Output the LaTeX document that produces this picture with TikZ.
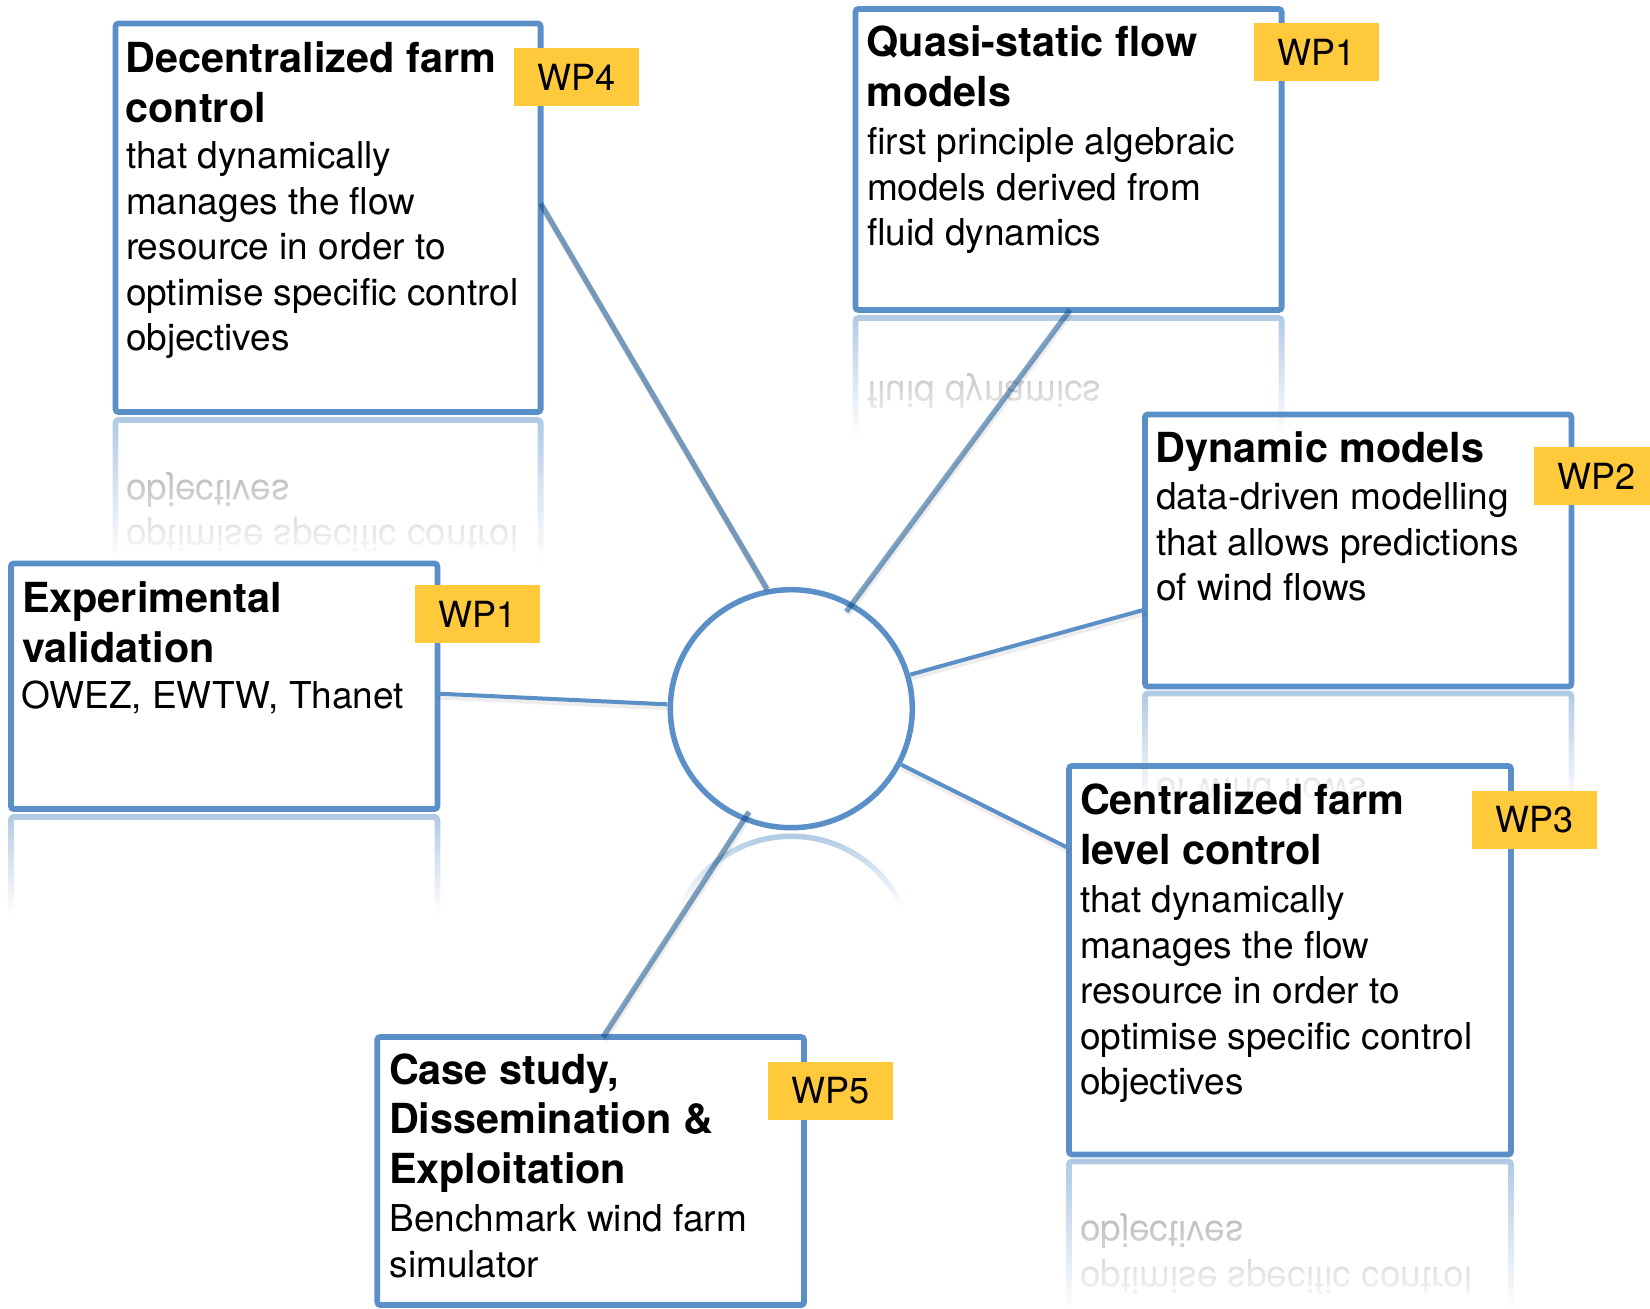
\documentclass[tikz,border=0pt]{standalone}
\usepackage{fontspec}
\setmainfont{TeX Gyre Heros}
\usetikzlibrary{shapes.geometric,calc,fadings}

\definecolor{boxblue}{RGB}{91,143,199}
\definecolor{spokeblue}{RGB}{0,71,135}
\definecolor{tagyellow}{RGB}{255,201,60}

% title and body text blocks (baseline = first line)
\newcommand\ttl[1]{\parbox[t]{230pt}{\raggedright\fontsize{20.7pt}{24.75pt}\selectfont\bfseries #1}}
\newcommand\bdy[1]{\parbox[t]{230pt}{\raggedright\fontsize{18.5pt}{22.75pt}\selectfont #1}}

\tikzset{
  wpbox/.style={rectangle, draw=boxblue, line width=2.9pt, rounded corners=1.5pt,
    inner sep=0pt, outer sep=0pt},
  wptxt/.style={anchor=base west, inner sep=0pt, outer sep=0pt, text=black},
  hubring/.style={ellipse, draw=boxblue, line width=2.75pt, fill=white,
    inner sep=0pt, outer sep=0pt, minimum width=121pt, minimum height=119pt},
  tag/.style={rectangle, fill=tagyellow, inner sep=0pt, outer sep=0pt,
    minimum width=62.5pt, minimum height=29pt, font=\fontsize{18pt}{20pt}\selectfont},
  spoke/.style={draw=spokeblue, draw opacity=0.5, line width=2.7pt},
  link/.style={draw=boxblue, line width=2pt},
  lineshadow/.style={preaction={draw=black, draw opacity=0.07, line width=3pt,
    transform canvas={shift={(0.5pt,-1.5pt)}}}},
  mirror/.style={shift={(0,#1)}, yscale=-1, shift={(0,-#1)},
    every node/.append style={transform shape}},
  faded/.style={wpbox/.append style={draw=boxblue!48},
    wptxt/.append style={text=black!42},
    hubring/.append style={draw=boxblue!48}},
  fadecover/.style={fill=white, path fading=north},
}

\begin{document}
\begin{tikzpicture}[x=0.5pt, y=-0.5pt]
  \useasboundingbox (0,0) rectangle (1650,1309);

  % ---- mirrored reflections below the boxes and the hub ----
  \begin{scope}
    \clip (108,416) rectangle (548,561);
    \begin{scope}[mirror=416, faded]
      \node[wpbox, minimum width=212.55pt, minimum height=194.25pt] (decr) at (328.05,217.75) {};
      \node[wptxt] (decrb) at (126,306) {\bdy{optimise specific control\\objectives}};
    \end{scope}
    \path[fadecover] (108,416) rectangle (548,561);
  \end{scope}
  \begin{scope}
    \clip (848,314) rectangle (1289,434);
    \begin{scope}[mirror=314, faded]
      \node[wpbox, minimum width=213.05pt, minimum height=150.5pt] (qsr) at (1068.55,159.5) {};
      \node[wptxt] (qsrb) at (867,246) {\bdy{fluid dynamics}};
    \end{scope}
    \path[fadecover] (848,314) rectangle (1289,434);
  \end{scope}
  \begin{scope}
    \clip (3,813) rectangle (445,913);
    \begin{scope}[mirror=813, faded]
      \node[wpbox, minimum width=213.25pt, minimum height=122.75pt] (expr) at (224.15,686.25) {};
    \end{scope}
    \path[fadecover] (3,813) rectangle (445,913);
  \end{scope}
  \begin{scope}
    \clip (1137,690) rectangle (1580,805);
    \begin{scope}[mirror=690, faded]
      \node[wpbox, minimum width=213.25pt, minimum height=136pt] (dynr) at (1358.25,550.5) {};
      \node[wptxt] (dynrb) at (1156,601) {\bdy{of wind flows}};
    \end{scope}
    \path[fadecover] (1137,690) rectangle (1580,805);
  \end{scope}
  \begin{scope}
    \clip (1061,1158) rectangle (1519,1309);
    \begin{scope}[mirror=1158, faded]
      \node[wpbox, minimum width=221pt, minimum height=194.25pt] (cenr) at (1290,960.25) {};
      \node[wptxt] (cenrb) at (1080,1049) {\bdy{optimise specific control\\objectives}};
    \end{scope}
    \path[fadecover] (1061,1158) rectangle (1519,1309);
  \end{scope}
  \begin{scope}
    \clip (660,832) rectangle (925,907);
    \begin{scope}[mirror=832, faded]
      \node[hubring] (hubr) at (791.3,708.7) {};
    \end{scope}
    \path[fadecover] (660,832) rectangle (925,907);
  \end{scope}

  % ---- central hub ----
  \node[hubring] (hub) at (791.3,708.7) {};

  % ---- work package boxes ----
  \node[wpbox, minimum width=212.55pt, minimum height=194.25pt] (dec) at (328.05,217.75) {};
  \node[wptxt] (dect) at (125.5,72.7) {\ttl{Decentralized farm\\control}};
  \node[wptxt] (decb) at (126,169) {\bdy{that dynamically\\manages the flow\\resource in order to\\optimise specific control\\objectives}};

  \node[wpbox, minimum width=213.05pt, minimum height=150.5pt] (qs) at (1068.55,159.5) {};
  \node[wptxt] (qst) at (866.5,56.7) {\ttl{Quasi-static flow\\models}};
  \node[wptxt] (qsb) at (867,155) {\bdy{first principle algebraic\\models derived from\\fluid dynamics}};

  \node[wpbox, minimum width=213.25pt, minimum height=122.75pt] (exp) at (224.15,686.25) {};
  \node[wptxt] (expt) at (22,612.7) {\ttl{Experimental\\validation}};
  \node[wptxt] (expb) at (21.5,709) {\bdy{OWEZ, EWTW, Thanet}};

  \node[wpbox, minimum width=213.25pt, minimum height=136pt] (dyn) at (1358.25,550.5) {};
  \node[wptxt] (dynt) at (1155.5,463) {\ttl{Dynamic models}};
  \node[wptxt] (dynb) at (1156,510) {\bdy{data-driven modelling\\that allows predictions\\of wind flows}};

  \node[wpbox, minimum width=221pt, minimum height=194.25pt] (cen) at (1290,960.25) {};
  \node[wptxt] (cent) at (1080,815) {\ttl{Centralized farm\\level control}};
  \node[wptxt] (cenb) at (1080,912.7) {\bdy{that dynamically\\manages the flow\\resource in order to\\optimise specific control\\objectives}};

  \node[wpbox, minimum width=213.35pt, minimum height=134pt] (cs) at (590.65,1171) {};
  \node[wptxt] (cst) at (389,1084) {\ttl{Case study,\\Dissemination \&\\Exploitation}};
  \node[wptxt] (csb) at (389.5,1231.7) {\bdy{Benchmark wind farm\\simulator}};

  % ---- connectors ----
  \draw[spoke, lineshadow, shorten >=1.5pt] ($(dec.north east)!0.463!(dec.south east)$) -- (hub.101);
  \draw[spoke, lineshadow, shorten >=-4pt] ($(qs.south west)!0.503!(qs.south east)$) -- (hub.60);
  \draw[spoke, lineshadow, shorten <=-4pt] (hub.247) -- ($(cs.north west)!0.529!(cs.north east)$);
  \draw[link, lineshadow, shorten >=1.5pt] ($(exp.north east)!0.53!(exp.south east)$) -- (hub.178);
  \draw[link, lineshadow, shorten <=1.5pt] (hub.16) -- ($(dyn.north west)!0.717!(dyn.south west)$);
  \draw[link, lineshadow, shorten <=1.5pt] (hub.333) -- ($(cen.north west)!0.212!(cen.south west)$);

  % ---- work package tags ----
  \node[tag] (tag4) at (576.1,77) {WP4};
  \node[tag] (tag1a) at (1316.1,52) {WP1};
  \node[tag] (tag1b) at (477.5,614.5) {WP1};
  \node[tag] (tag2) at (1596.5,476) {WP2};
  \node[tag] (tag3) at (1534.5,820) {WP3};
  \node[tag] (tag5) at (830.5,1091) {WP5};
\end{tikzpicture}
\end{document}
